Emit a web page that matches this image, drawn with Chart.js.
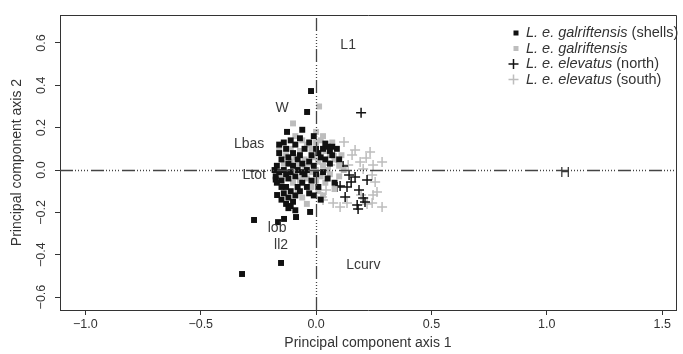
<!DOCTYPE html>
<html><head><meta charset="utf-8">
<script src="https://cdn.jsdelivr.net/npm/chart.js@4.4.0/dist/chart.umd.min.js"></script>
<style>html,body{margin:0;padding:0;background:#fff}#wrap{width:683px;height:354px;position:relative}</style>
</head><body><div id="wrap"><canvas id="c"></canvas></div>
<script>
// ---- data ----
const xTicks = [-1.0, -0.5, 0.0, 0.5, 1.0, 1.5];
const yTicks = [-0.6, -0.4, -0.2, 0.0, 0.2, 0.4, 0.6];

const shellsX = [-0.022,-0.039,-0.126,-0.269,-0.169,-0.165,-0.139,-0.087,-0.026,-0.152,-0.321,
  -0.17,-0.16,-0.175,-0.15,-0.14,-0.13,-0.12,-0.11,-0.10,-0.09,-0.15,-0.12,-0.10,-0.08,-0.06,-0.05,-0.04,-0.03,-0.02,-0.01,
  0.01,0.03,0.05,0.07,0.09,0.02,0.04,0.06,0.03,0.05,0.08,0.01,-0.13,-0.11,-0.12,-0.10,-0.11,-0.09,-0.08,-0.07,-0.06,-0.14,
  -0.13,-0.14,-0.11,-0.09,-0.07,-0.05,-0.03,-0.01,0.00,-0.18,-0.175,-0.16,-0.08,-0.06,-0.02,0.00,-0.04,-0.03,0.02,-0.01,
  -0.12,-0.07,0.07,0.10,-0.17,-0.15,-0.09,-0.13,-0.06,-0.16,0.04,0.06,-0.15,-0.12];
const shellsY = [0.373,0.274,0.180,-0.236,-0.118,-0.246,-0.231,-0.222,-0.198,-0.439,-0.491,
  0.02,-0.01,-0.03,-0.05,0.00,-0.02,-0.04,-0.01,0.02,-0.03,0.05,0.06,0.08,0.05,0.03,-0.02,0.00,0.04,-0.05,0.02,
  0.08,0.10,0.11,0.11,0.10,0.06,0.05,0.03,-0.01,-0.04,-0.06,-0.08,-0.08,-0.10,-0.13,-0.15,-0.17,-0.12,-0.08,-0.10,-0.06,-0.11,
  0.10,0.13,0.14,0.12,0.15,0.10,0.13,0.16,0.10,0.00,-0.045,0.08,0.00,-0.01,0.07,-0.02,-0.08,-0.11,-0.14,-0.12,
  0.03,0.07,0.07,0.05,-0.06,-0.08,-0.19,-0.16,0.19,0.12,0.125,0.09,-0.14,-0.18];

const galX = [0.013,-0.10,-0.06,-0.04,-0.02,0.00,0.02,0.04,0.06,0.08,0.10,0.12,0.05,0.03,0.01,-0.01,-0.03,-0.05,-0.07,-0.09,
  -0.11,-0.13,-0.08,-0.06,-0.04,-0.02,0.00,0.02,0.04,0.06,0.08,0.10,-0.10,-0.08,-0.06,-0.04,-0.02,0.00,0.01,0.03,-0.12,-0.14,
  -0.16,-0.11,-0.09,0.00,0.03,0.07,-0.05,0.11,-0.15,-0.07];
const galY = [0.30,0.22,0.14,0.12,0.10,0.13,0.14,0.09,0.07,0.05,0.02,0.00,0.00,0.02,0.04,0.06,0.03,0.05,0.09,0.06,
  0.04,0.07,0.02,-0.03,-0.04,-0.01,0.00,-0.03,-0.06,-0.02,-0.09,-0.03,-0.06,-0.10,-0.13,-0.16,-0.08,-0.05,-0.10,-0.12,-0.01,0.03,
  0.10,0.10,0.16,0.18,0.16,0.13,0.02,0.07,-0.03,-0.05];

const northX = [0.195,0.117,0.091,0.134,0.152,0.186,0.221,0.126,0.204,0.178,0.212,0.182,0.104,0.169,0.143];
const northY = [0.27,0.019,-0.080,-0.080,-0.057,-0.094,-0.047,-0.128,-0.132,-0.165,-0.151,-0.184,-0.076,-0.033,-0.024];

const southX = [0.121,0.234,0.286,0.217,0.191,0.156,0.247,0.204,0.243,0.264,0.286,0.243,0.104,0.026,0.074,0.030,0.134,
  0.247,0.221,0.169,0.061,0.087,0.139,0.043,0.195,0.017,0.256];
const southY = [0.132,0.085,0.038,0.057,0.038,0.071,0.024,0.005,-0.024,-0.104,-0.175,-0.156,-0.175,-0.128,-0.156,-0.142,-0.156,
  -0.118,-0.161,0.094,0.024,0.057,0.024,-0.094,-0.118,0.047,-0.057];

const varNames = ['L1','W','Lbas','Ltot','lob','ll2','Lcurv','H'];
const varX = [0.139,-0.147,-0.290,-0.268,-0.169,-0.152,0.205,1.079];
const varY = [0.590,0.293,0.123,-0.024,-0.274,-0.354,-0.449,-0.014];

const legendItalic = ['L. e. galriftensis','L. e. galriftensis','L. e. elevatus','L. e. elevatus'];
const legendPlain = [' (shells)','',' (north)',' (south)'];

// ---- chart ----
const FONT = '"Liberation Sans", Arial, Helvetica, sans-serif';
const TXT = '#333';
const pts = (xs, ys) => xs.map((x, i) => ({x: x, y: ys[i]}));
const fmt = v => { const s = Math.abs(v).toFixed(1); return v < -1e-9 ? '\u2212' + s : s; };

const series = [
  {data: pts(southX, southY), pointStyle: 'cross', pointRadius: 5, borderColor: '#bdbdbd', borderWidth: 1.5, backgroundColor: '#bdbdbd'},
  {data: pts(northX, northY), pointStyle: 'cross', pointRadius: 5, borderColor: '#111', borderWidth: 1.5, backgroundColor: '#111'},
  {data: pts(galX, galY), pointStyle: 'rect', pointRadius: 4.2, borderWidth: 0, borderColor: '#bdbdbd', backgroundColor: '#bdbdbd'},
  {data: pts(shellsX, shellsY), pointStyle: 'rect', pointRadius: 4.2, borderWidth: 0, borderColor: '#111', backgroundColor: '#111'}
];
series.forEach((s, i) => { s.order = series.length - i; s.pointHoverRadius = s.pointRadius; });

const decor = {
  id: 'decor',
  afterDatasetsDraw(chart) {
    const {ctx, chartArea: a, scales: {x, y}} = chart;
    ctx.save();
    ctx.beginPath(); ctx.rect(a.left, a.top, a.right - a.left, a.bottom - a.top); ctx.clip();
    ctx.strokeStyle = '#444'; ctx.lineWidth = 1.3;
    ctx.setLineDash([13, 2, 1, 2, 1, 2, 1, 2, 1, 2, 1, 3]);
    const x0 = Math.round(x.getPixelForValue(0)) + 0.5, y0 = Math.round(y.getPixelForValue(0)) + 0.5;
    ctx.beginPath(); ctx.moveTo(x0, a.bottom); ctx.lineTo(x0, a.top); ctx.stroke();
    ctx.beginPath(); ctx.moveTo(a.left, y0); ctx.lineTo(a.right, y0); ctx.stroke();
    ctx.restore();
  },
  afterDraw(chart) {
    const {ctx, chartArea: a, scales: {x, y}} = chart;
    ctx.save();
    // box top/right
    ctx.strokeStyle = '#333'; ctx.lineWidth = 1;
    ctx.beginPath();
    ctx.moveTo(a.left, a.top + 0.5); ctx.lineTo(a.right + 0.5, a.top + 0.5); ctx.lineTo(a.right + 0.5, a.bottom);
    ctx.stroke();
    // y tick labels (rotated)
    ctx.fillStyle = TXT; ctx.font = '12.5px ' + FONT; ctx.textAlign = 'center'; ctx.textBaseline = 'middle';
    yTicks.forEach(v => {
      const py = y.getPixelForValue(v);
      ctx.save(); ctx.translate(42, py); ctx.rotate(-Math.PI / 2); ctx.fillText(fmt(v), 0, 0); ctx.restore();
    });
    // axis titles
    ctx.font = '14px ' + FONT;
    ctx.fillText('Principal component axis 1', (a.left + a.right) / 2, 343);
    ctx.save(); ctx.translate(17, (a.top + a.bottom) / 2); ctx.rotate(-Math.PI / 2);
    ctx.fillText('Principal component axis 2', 0, 0); ctx.restore();
    // variable labels
    ctx.font = '14px ' + FONT; ctx.fillStyle = '#3a3a3a';
    varNames.forEach((n, i) => ctx.fillText(n, x.getPixelForValue(varX[i]), y.getPixelForValue(varY[i])));
    // legend
    const rows = [33, 48.5, 64, 79.5];
    const mk = [
      {t: 'rect', c: '#111'}, {t: 'rect', c: '#bdbdbd'}, {t: 'cross', c: '#111'}, {t: 'cross', c: '#bdbdbd'}
    ];
    rows.forEach((ry, i) => {
      const m = mk[i];
      if (m.t === 'rect') { ctx.fillStyle = m.c; ctx.fillRect(513.5, ry - 2.5, 5, 5); }
      else { ctx.strokeStyle = m.c; ctx.lineWidth = 1.5; ctx.beginPath();
        ctx.moveTo(508.5, ry); ctx.lineTo(518.5, ry); ctx.moveTo(513.5, ry - 5); ctx.lineTo(513.5, ry + 5); ctx.stroke(); }
      ctx.fillStyle = TXT; ctx.textAlign = 'left';
      ctx.font = 'italic 14.5px ' + FONT;
      ctx.fillText(legendItalic[i], 526, ry);
      const w = ctx.measureText(legendItalic[i]).width;
      ctx.font = '14.5px ' + FONT;
      ctx.fillText(legendPlain[i], 526 + w, ry);
    });
    ctx.restore();
  }
};

new Chart(document.getElementById('c'), {
  type: 'scatter',
  data: {datasets: series},
  options: {
    responsive: true, maintainAspectRatio: false, animation: false,
    layout: {padding: {top: 15, right: 7, left: 0, bottom: 0}},
    plugins: {legend: {display: false}, tooltip: {enabled: false}},
    events: [],
    scales: {
      x: {
        type: 'linear', min: -1.11, max: 1.56,
        afterBuildTicks: s => { s.ticks = xTicks.map(v => ({value: v})); },
        afterFit: s => { s.height = 44; s.paddingLeft = 0; s.paddingRight = 0; },
        ticks: {callback: v => fmt(v), font: {family: FONT, size: 12.5}, color: TXT, padding: 2, maxRotation: 0, autoSkip: false},
        grid: {drawOnChartArea: false, drawTicks: true, tickLength: 5, color: '#333', lineWidth: 1},
        border: {display: true, color: '#333', width: 1}
      },
      y: {
        type: 'linear', min: -0.661, max: 0.732,
        afterBuildTicks: s => { s.ticks = yTicks.map(v => ({value: v})); },
        afterFit: s => { s.width = 60; s.paddingTop = 0; s.paddingBottom = 0; },
        ticks: {color: 'rgba(0,0,0,0)', font: {family: FONT, size: 11.5}, autoSkip: false},
        grid: {drawOnChartArea: false, drawTicks: true, tickLength: 5, color: '#333', lineWidth: 1},
        border: {display: true, color: '#333', width: 1}
      }
    }
  },
  plugins: [decor]
});
</script></body></html>
